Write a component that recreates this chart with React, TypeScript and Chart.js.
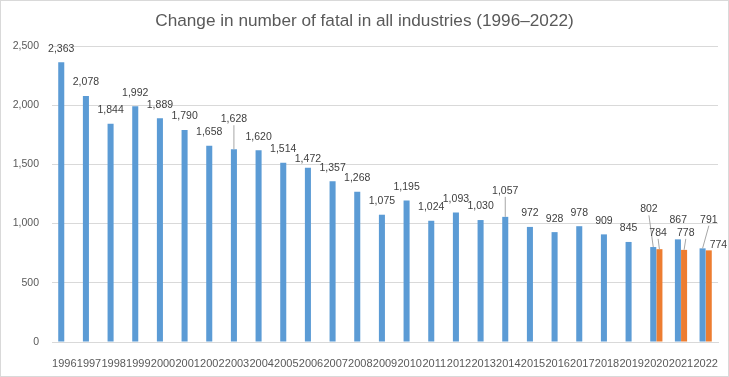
import React, { useEffect, useRef } from "react";
import { Chart, registerables } from "chart.js";

Chart.register(...registerables);

const years = [
  "1996", "1997", "1998", "1999", "2000", "2001", "2002", "2003", "2004",
  "2005", "2006", "2007", "2008", "2009", "2010", "2011", "2012", "2013",
  "2014", "2015", "2016", "2017", "2018", "2019", "2020", "2021", "2022",
];

const blueValues = [
  2363, 2078, 1844, 1992, 1889, 1790, 1658, 1628, 1620, 1514, 1472, 1357,
  1268, 1075, 1195, 1024, 1093, 1030, 1057, 972, 928, 978, 909, 845, 802,
  867, 791,
];

const orangeValues: (number | null)[] = [
  null, null, null, null, null, null, null, null, null, null, null, null,
  null, null, null, null, null, null, null, null, null, null, null, null,
  784, 778, 774,
];

const yTicks = [0, 500, 1000, 1500, 2000, 2500];

const titleText = "Change in number of fatal in all industries (1996\u20132022)";

const FONT = "'Liberation Sans', Arial, sans-serif";

// label placement tweaks (style only): key = "datasetIndex-dataIndex"
const labelTweaks: Record<string, { dx: number; dy: number; line?: boolean }> = {
  "0-7": { dx: 0, dy: 30, line: true },
  "0-10": { dx: 0, dy: 8.5 },
  "0-18": { dx: 0, dy: 26, line: true },
  "0-24": { dx: -4.3, dy: 37.7, line: true },
  "1-24": { dx: -1.3, dy: 16.3, line: true },
  "0-25": { dx: 0.3, dy: 19 },
  "1-25": { dx: 1.7, dy: 17, line: true },
  "0-26": { dx: 6.3, dy: 28.7, line: true },
  "1-26": { dx: 9.7, dy: 5 },
};

const centeredTitlePlugin = {
  id: "centeredTitle",
  afterDraw(chart: any) {
    const ctx = chart.ctx;
    ctx.save();
    ctx.font = `17.2px ${FONT}`;
    ctx.fillStyle = "#595959";
    ctx.textAlign = "center";
    ctx.textBaseline = "middle";
    ctx.fillText(titleText, chart.width / 2, 20);
    ctx.restore();
  },
};

const dataLabelPlugin = {
  id: "dataLabels",
  afterDatasetsDraw(chart: any) {
    const ctx = chart.ctx;
    ctx.save();
    ctx.font = `10.5px ${FONT}`;
    ctx.textAlign = "center";
    ctx.textBaseline = "middle";
    chart.data.datasets.forEach((ds: any, di: number) => {
      const meta = chart.getDatasetMeta(di);
      meta.data.forEach((bar: any, i: number) => {
        const v = ds.data[i];
        if (v === null || v === undefined) return;
        const tw = labelTweaks[`${di}-${i}`];
        const dx = tw ? tw.dx : 0;
        const dy = tw ? tw.dy : 13.5;
        const lx = bar.x + dx;
        const ly = bar.y - dy;
        if (tw && tw.line) {
          ctx.strokeStyle = "#a6a6a6";
          ctx.lineWidth = 1;
          ctx.beginPath();
          ctx.moveTo(lx, ly + 6);
          ctx.lineTo(bar.x, bar.y);
          ctx.stroke();
        }
        ctx.fillStyle = "#404040";
        ctx.fillText(v.toLocaleString("en-US"), lx, ly);
      });
    });
    ctx.restore();
  },
};

export default function App() {
  const canvasRef = useRef<HTMLCanvasElement | null>(null);

  useEffect(() => {
    if (!canvasRef.current) return;
    const chart = new Chart(canvasRef.current, {
      type: "bar",
      data: {
        labels: years,
        datasets: [
          {
            label: "Series 1",
            data: blueValues,
            backgroundColor: "#5b9bd5",
            categoryPercentage: 0.5,
            barPercentage: 0.98,
          },
          {
            label: "Series 2",
            data: orangeValues,
            backgroundColor: "#ed7d31",
            categoryPercentage: 0.5,
            barPercentage: 0.98,
          },
        ],
      },
      options: {
        responsive: false,
        animation: false,
        devicePixelRatio: 1,
        layout: { padding: { left: 0, right: 10, top: 45, bottom: 0 } },
        plugins: {
          legend: { display: false },
          tooltip: { enabled: false },
          title: { display: false },
        },
        scales: {
          x: {
            grid: { display: false },
            border: { display: true, color: "#d9d9d9" },
            ticks: {
              color: "#595959",
              font: { family: FONT, size: 11 },
              autoSkip: false,
              maxRotation: 0,
              minRotation: 0,
              padding: 7.5,
            },
            afterFit(scale: any) {
              scale.height = 34;
            },
          },
          y: {
            min: 0,
            max: 2500,
            afterBuildTicks(scale: any) {
              scale.ticks = yTicks.map((v) => ({ value: v }));
            },
            grid: { color: "#d9d9d9", drawTicks: false },
            border: { display: false },
            ticks: {
              color: "#595959",
              font: { family: FONT, size: 10.5 },
              padding: 13,
              callback: (v: any) => Number(v).toLocaleString("en-US"),
            },
            afterFit(scale: any) {
              scale.width = 51;
            },
          },
        },
      },
      plugins: [dataLabelPlugin, centeredTitlePlugin],
    });
    return () => chart.destroy();
  }, []);

  return (
    <div
      style={{
        position: "fixed",
        left: 0,
        top: 0,
        width: 729,
        height: 377,
        boxSizing: "border-box",
        border: "1px solid #d9d9d9",
        background: "#ffffff",
      }}
    >
      <canvas ref={canvasRef} width={727} height={375} style={{ display: "block" }} />
    </div>
  );
}
